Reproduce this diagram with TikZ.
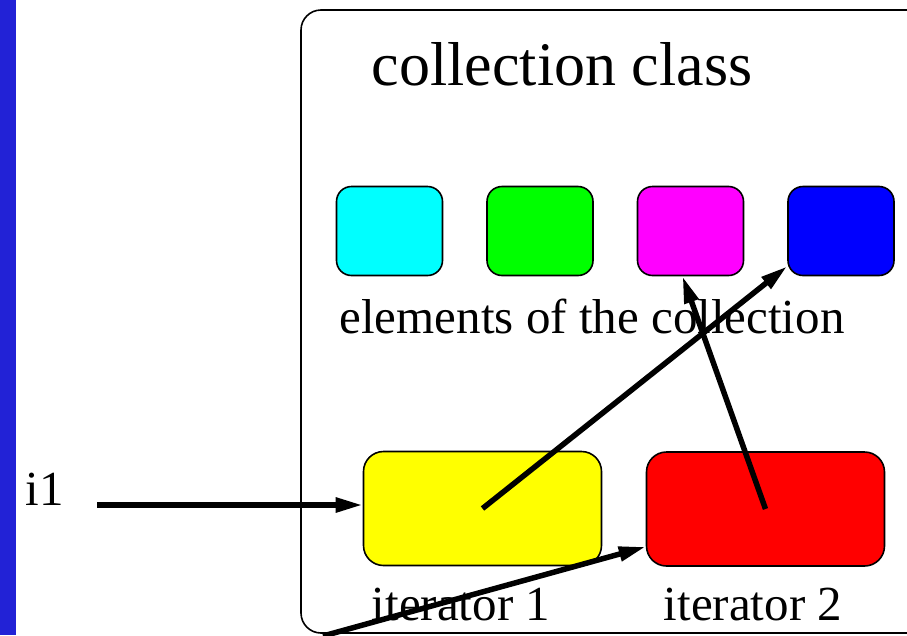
\documentclass[tikz,border=0pt]{standalone}
\usepackage{fontspec}
\setmainfont{Liberation Serif}
\usepackage{tikz}
\usetikzlibrary{arrows.meta}
\definecolor{stripblue}{RGB}{34,34,214}
\definecolor{ecyan}{RGB}{0,255,255}
\definecolor{egreen}{RGB}{0,255,0}
\definecolor{emagenta}{RGB}{255,0,255}
\definecolor{eblue}{RGB}{0,0,255}
\definecolor{iyellow}{RGB}{255,255,0}
\definecolor{ired}{RGB}{255,0,0}
\tikzset{
  elem/.style={draw, line width=1.6pt, rounded corners=15pt, minimum width=106pt, minimum height=89pt, inner sep=0pt},
  iter/.style={draw, line width=1.6pt, rounded corners=20pt, minimum width=238pt, minimum height=114pt, inner sep=0pt},
  ptr/.style={line width=5.5pt, -{Triangle[length=27pt,width=14pt]}},
  big/.style={font=\fontsize{62}{70}\selectfont, inner sep=0pt, anchor=base},
  mid/.style={font=\fontsize{49}{56}\selectfont, inner sep=0pt, anchor=base}
}

\begin{document}
\begin{tikzpicture}[x=1pt,y=-1pt]
\useasboundingbox (0,0) rectangle (907,635);
\clip (0,0) rectangle (907,635);
\fill[white] (0,0) rectangle (907,635);
\fill[stripblue] (0,0) rectangle (16,635);
\node[draw, line width=1.6pt, rounded corners=20pt, minimum width=639pt, minimum height=623pt] (coll) at (620.5,321.5) {};
\node[big] (title) at (562,85) {collection class};
\foreach \c [count=\i] in {ecyan,egreen,emagenta,eblue}
  \node[elem, fill=\c] (e\i) at (389.5+150.5*\i-150.5,231) {};
\node[mid] (elems) at (592,333) {elements of the collection};
\node[iter, fill=iyellow] (it1) at (482.5,508.5) {};
\node[iter, fill=ired] (it2) at (765.5,509) {};
\node[mid] (lab1) at (461,620) {iterator 1};
\node[mid] (lab2) at (753,620) {iterator 2};
\node[mid] (i1) at (45,505) {i1};
\coordinate (i1tail) at (97,505);
\coordinate (loose) at (323,636);
\draw[ptr] (i1tail) -- (it1.west |- i1tail);
\draw[ptr] (loose) -- ([yshift=20pt]it2.south west);
\draw[ptr] (it1.center) -- ([yshift=10pt]e4.south west);
\draw[ptr] (it2.center) -- ([xshift=-8pt]e3.south);
\end{tikzpicture}
\end{document}
